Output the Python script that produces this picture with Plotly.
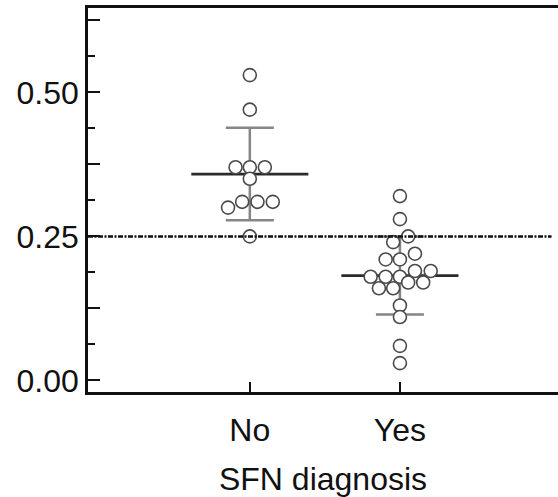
import numpy as np
import plotly.graph_objects as go

categories = ["No", "Yes"]
no_values = [0.53, 0.47, 0.37, 0.37, 0.37, 0.35, 0.31, 0.31, 0.31, 0.30, 0.25]
yes_values = [0.32, 0.28, 0.25, 0.24, 0.22, 0.21, 0.21, 0.19, 0.19, 0.18, 0.18,
              0.18, 0.17, 0.17, 0.16, 0.16, 0.13, 0.11, 0.06, 0.03]
reference_value = 0.25
y_tick_values = [0.0, 0.125, 0.25, 0.375, 0.5, 0.625]
y_tick_labels = ["0.00", "", "0.25", "", "0.50", ""]

# swarm offsets (layout only), in category units
no_offsets = [0, 0, -0.095, 0, 0.1, 0, -0.051, 0.051, 0.153, -0.145, 0]
yes_offsets = [0, 0, 0.055, -0.045, 0.1, -0.095, 0, 0.1, 0.205, -0.195, -0.095,
               0, 0.055, 0.155, -0.14, -0.045, 0, 0, 0, 0]

groups = [no_values, yes_values]
offsets = [no_offsets, yes_offsets]
means = [float(np.mean(g)) for g in groups]
sds = [float(np.std(g, ddof=1)) for g in groups]

FONT = "Liberation Sans, Arial, sans-serif"
fig = go.Figure()

x_left, x_right = -1.078, 2.053
fig.add_shape(type="line", xref="x", yref="y", x0=x_left, x1=2.01,
              y0=reference_value, y1=reference_value,
              line=dict(color="#111111", width=2.5, dash="5px,1.5px,2px,1.5px"))

# SD error bars
fig.add_trace(go.Scatter(
    x=[0, 1], y=means, mode="markers", marker=dict(size=1, opacity=0),
    error_y=dict(type="data", array=sds, visible=True, color="#858585",
                 thickness=2.5, width=24),
    showlegend=False, hoverinfo="skip"))

# mean lines
for i, m in enumerate(means):
    fig.add_trace(go.Scatter(x=[i - 0.39, i + 0.39], y=[m, m], mode="lines",
                             line=dict(color="#2a2a2a", width=2.8),
                             showlegend=False, hoverinfo="skip"))

# points
for i, (vals, offs) in enumerate(zip(groups, offsets)):
    fig.add_trace(go.Scatter(
        x=[i + o for o in offs], y=vals, mode="markers",
        marker=dict(symbol="circle", size=13, color="white",
                    line=dict(color="#4a4a4a", width=1.6)),
        showlegend=False))

fig.update_layout(
    width=558, height=497,
    margin=dict(l=88, r=0, t=8, b=105),
    plot_bgcolor="white", paper_bgcolor="white",
    font=dict(family=FONT, size=32, color="#111111"),
    xaxis=dict(range=[x_left, x_right], tickvals=[0, 1], ticktext=categories,
               showline=True, linecolor="#111111", linewidth=2.5, mirror=True,
               ticks="inside", ticklen=10, tickwidth=2, tickcolor="#111111",
               ticklabelstandoff=8, automargin=False,
               showgrid=False, zeroline=False,
               title=dict(text="SFN diagnosis", standoff=22,
                          font=dict(family=FONT, size=32, color="#111111")),
               tickfont=dict(size=32)),
    yaxis=dict(range=[-0.0201, 0.6465], tickvals=y_tick_values, ticktext=y_tick_labels,
               showline=True, linecolor="#111111", linewidth=2.5, mirror=False,
               ticks="inside", ticklen=12, tickwidth=2, tickcolor="#111111",
               automargin=False,
               minor=dict(ticks="inside", ticklen=7, tickwidth=1.5, tickcolor="#111111",
                          tickvals=[0.0625, 0.1875, 0.3125, 0.4375, 0.5625]),
               showgrid=False, zeroline=False, tickfont=dict(size=32)),
)

fig.write_html("out.html")
